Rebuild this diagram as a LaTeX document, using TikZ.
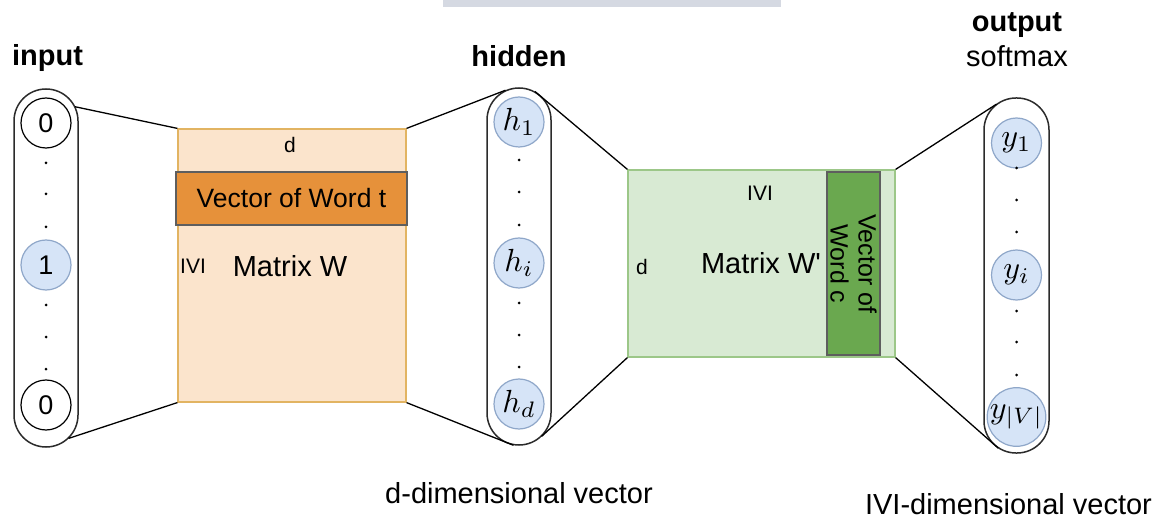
\documentclass[tikz,border=0pt]{standalone}
\usepackage{fontspec}
\setmainfont{Liberation Sans}
\newfontfamily\straightsans{Liberation Sans}
\usetikzlibrary{calc}

\definecolor{pillgray}{HTML}{2B2B2B}
\definecolor{wfill}{HTML}{FBE4CC}
\definecolor{wedge}{HTML}{E2B462}
\definecolor{tfill}{HTML}{E6913A}
\definecolor{boxedge}{HTML}{5E5E5E}
\definecolor{gfill}{HTML}{D8EAD3}
\definecolor{gedge}{HTML}{9CC788}
\definecolor{cfill}{HTML}{6AA84F}
\definecolor{bluefill}{HTML}{D6E4F7}
\definecolor{blueedge}{HTML}{8FA7C9}
\definecolor{topbar}{HTML}{D5D9E2}

\newcommand{\fsbig}{\fontsize{29}{34}\selectfont}
\newcommand{\fsdigit}{\fontsize{27}{30}\selectfont}
\newcommand{\fsmid}{\fontsize{26.5}{28}\selectfont}
\newcommand{\fsrot}{\fontsize{25}{28}\selectfont}
\newcommand{\fssmall}{\fontsize{21}{24}\selectfont}
\newcommand{\bigmath}[1]{\scalebox{3.2}{$#1$}}

\begin{document}
\begin{tikzpicture}[x=1pt,y=1pt,
  pill/.style={draw=pillgray, line width=1.5pt, rounded corners=32pt,
    minimum width=64pt, inner sep=0pt},
  unit/.style={circle, draw=black, line width=1.2pt, fill=white,
    minimum size=50pt, inner sep=0pt, font=\fsdigit},
  hunit/.style={unit, draw=blueedge, fill=bluefill, font=\normalsize},
  matbox/.style={rectangle, inner sep=0pt, line width=1.2pt},
  vecbox/.style={rectangle, inner sep=0pt, line width=1.5pt, draw=boxedge},
  link/.style={line width=1.3pt, black},
  head/.style={anchor=base, font=\fsbig\bfseries},
  plain/.style={anchor=base, font=\fsbig},
  dot/.style={circle, fill=black, inner sep=0pt, minimum size=3pt}
]
\useasboundingbox (0,0) rectangle (1159,520);
\fill[white] (0,0) rectangle (1159,520);
\fill[topbar] (443,513) rectangle (781,520);

% column headings
\node[head] (tin) at (47.5,454) {input};
\node[head] (thid) at (519,453) {hidden};
\node[head] (tout) at (1017,488) {output};
\node[plain] (tsoft) at (1017,453) {softmax};

% input layer (one-hot)
\node[pill, minimum height=358pt] (inp) at (46,252) {};
\node[unit] (x0) at (46,397) {0};
\node[unit, draw=blueedge, fill=bluefill] (x1) at (46,255) {1};
\node[unit] (xn) at (46,115) {0};
\foreach \yy in {357,326,293,215,183,151} \node[dot] at (46,\yy) {};

% embedding matrix W
\node[matbox, fill=wfill, draw=wedge, minimum width=228pt, minimum height=273pt] (matW) at (292,254.5) {};
\node[vecbox, fill=tfill, minimum width=231pt, minimum height=53pt, font=\fsmid] (vecT) at (291.5,321.5) {Vector of Word t};
\node[font=\fssmall] (wd) at (290,375) {d};
\node[font=\fssmall] (wv) at (193,254) {IVI};
\node[font=\fsbig] (wname) at (290,254) {Matrix W};

% hidden layer
\node[pill, minimum height=357pt] (hid) at (519,253.5) {};
\node[hunit] (h1) at (519,398) {\bigmath{h_1}};
\node[hunit] (hi) at (519,257) {\bigmath{h_i}};
\node[hunit] (hd) at (519,116) {\bigmath{h_d}};
\foreach \yy in {360,328,295,217,185,153} \node[dot] at (519,\yy) {};

% context matrix W'
\node[matbox, fill=gfill, draw=gedge, minimum width=267pt, minimum height=187pt] (matC) at (761.5,256.5) {};
\node[vecbox, fill=cfill, minimum width=53pt, minimum height=183pt] (vecC) at (853.5,256.5) {};
\node[rotate=-90, align=center, font=\fsrot] (vecCt) at (853.5,256) {Vector of\\Word c};
\node[font=\fssmall] (cv) at (760,327) {IVI};
\node[font=\fssmall] (cd) at (642,253) {d};
\node[font=\fsbig\straightsans] (cname) at (761,257) {Matrix W'};

% output layer
\node[pill, minimum width=65pt, minimum height=355pt] (out) at (1016.5,244.5) {};
\node[hunit] (y1) at (1016.5,377) {\bigmath{y_1}};
\node[hunit] (yi) at (1016.5,245) {\bigmath{y_i}};
\node[hunit] (yv) at (1016.5,103) {\bigmath{y_{|V|}}};
\foreach \yy in {352,320,288,209,178,145} \node[dot] at (1016.5,\yy) {};

% bottom captions
\node[plain] (capd) at (519,17) {d-dimensional vector};
\node[plain] (capv) at (1008.5,6) {IVI-dimensional vector};

% contact points on the rounded ends of the layers
\coordinate (inpT) at ($(inp.north)+(0,-32)+(25:32)$);
\coordinate (inpB) at ($(inp.south)+(0,32)+(-45:32)$);
\coordinate (hidTL) at ($(hid.north)+(0,-32)+(115:32)$);
\coordinate (hidBL) at ($(hid.south)+(0,32)+(-100:32)$);
\coordinate (hidTR) at ($(hid.north)+(0,-32)+(60:32)$);
\coordinate (hidBR) at ($(hid.south)+(0,32)+(-45:32)$);
\coordinate (outT) at ($(out.north)+(0,-32.5)+(128:32.5)$);
\coordinate (outB) at ($(out.south)+(0,32.5)+(-124:32.5)$);

% projection lines
\draw[link] (inpT) -- (matW.north west);
\draw[link] (inpB) -- (matW.south west);
\draw[link] (matW.north east) -- (hidTL);
\draw[link] (matW.south east) -- (hidBL);
\draw[link] (hidTR) -- (matC.north west);
\draw[link] (hidBR) -- (matC.south west);
\draw[link] (matC.north east) -- (outT);
\draw[link] (matC.south east) -- (outB);
\end{tikzpicture}
\end{document}
